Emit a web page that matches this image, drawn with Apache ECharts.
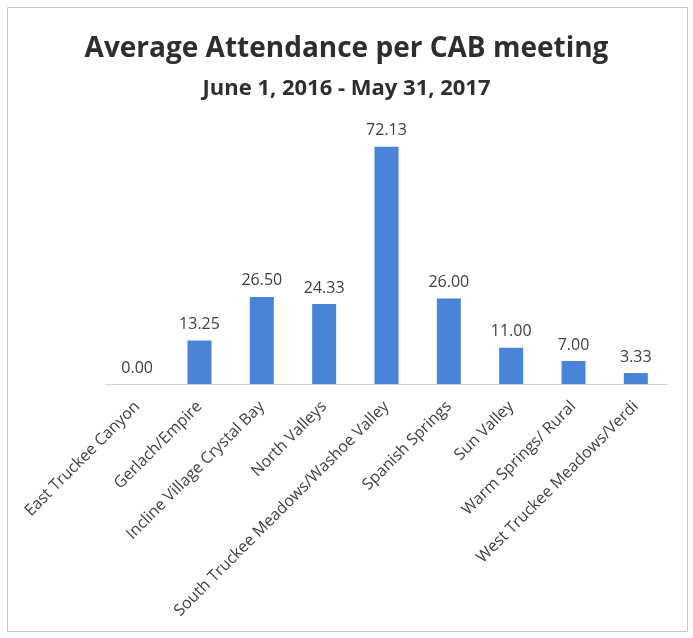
<!DOCTYPE html>
<html>
<head>
<meta charset="UTF-8">
<title>Average Attendance per CAB meeting</title>
<script src="https://cdn.jsdelivr.net/npm/echarts@6/dist/echarts.min.js"></script>
<style>
  html, body { margin: 0; padding: 0; background: #fff; }
</style>
</head>
<body>
<div id="main" style="width: 693px; height: 638px;"></div>
<script type="text/javascript">
// chart data
var categories = ['East Truckee Canyon', 'Gerlach/Empire', 'Incline Village Crystal Bay', 'North Valleys',
    'South Truckee Meadows/Washoe Valley', 'Spanish Springs', 'Sun Valley', 'Warm Springs/ Rural',
    'West Truckee Meadows/Verdi'];
var attendance = [0.00, 13.25, 26.50, 24.33, 72.13, 26.00, 11.00, 7.00, 3.33];

var myChart = echarts.init(document.getElementById('main'));

var option = {
    backgroundColor: '#ffffff',
    animation: false,
    title: [{
        text: 'Average Attendance per CAB meeting',
        left: 'center',
        top: 30,
        textStyle: { fontFamily: 'Open Sans', fontSize: 28, fontWeight: 'bold', color: '#2e2e2e' }
    }, {
        text: 'June 1, 2016 - May 31, 2017',
        left: 'center',
        top: 73,
        textStyle: { fontFamily: 'Open Sans', fontSize: 22, fontWeight: 'bold', color: '#2e2e2e' }
    }],
    graphic: [{
        type: 'rect',
        shape: { x: 7.5, y: 7.5, width: 680, height: 624 },
        style: { fill: 'none', stroke: '#c8c8c8', lineWidth: 1 }
    }],
    grid: { left: 106, right: 26, top: 121, bottom: 254 },
    xAxis: {
        type: 'category',
        data: categories,
        axisTick: { show: false },
        axisLine: { lineStyle: { color: '#d0d0d0' } },
        axisLabel: {
            rotate: 45,
            interval: 0,
            margin: 20,
            fontFamily: 'Open Sans',
            fontSize: 16,
            color: '#404040'
        }
    },
    yAxis: {
        type: 'value',
        min: 0,
        max: 80,
        show: false,
        splitLine: { show: false }
    },
    series: [{
        type: 'bar',
        data: attendance,
        barWidth: 24,
        itemStyle: { color: '#4a84d8' },
        label: {
            show: true,
            position: 'top',
            distance: 8,
            fontFamily: 'Open Sans',
            fontSize: 16,
            color: '#404040',
            formatter: function (p) { return p.value.toFixed(2); }
        }
    }]
};

myChart.setOption(option);
</script>
</body>
</html>
